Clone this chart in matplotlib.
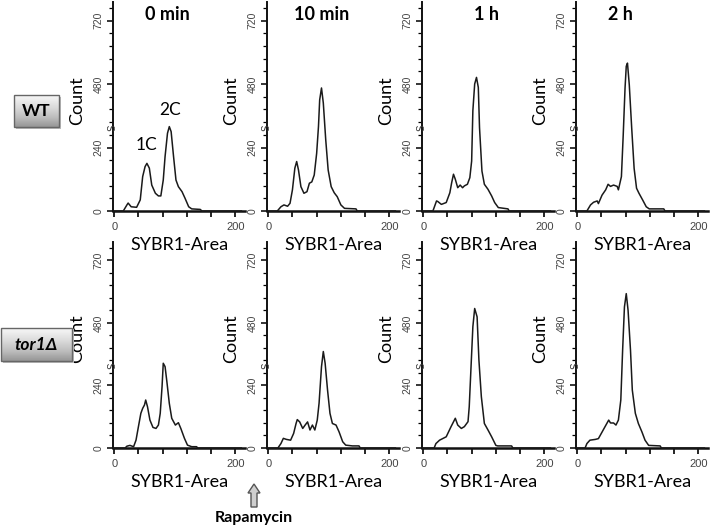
import matplotlib
matplotlib.use("Agg")
import matplotlib.pyplot as plt
import numpy as np
from matplotlib.patches import FancyArrow, Rectangle

# values (SYBR1-Area vs Count)
wt_0min_x = [0, 15, 21, 23, 28, 37, 43, 47, 51, 54, 58, 62, 68, 73, 77, 81, 84, 88, 91, 94, 98, 102, 106, 112, 117, 123, 128, 142, 145, 210]
wt_0min_y = [0, 0, 23, 30, 16, 14, 42, 130, 168, 180, 162, 98, 67, 57, 57, 117, 206, 294, 319, 300, 206, 117, 92, 73, 48, 16, 8, 6, 0, 0]

wt_10min_x = [0, 15, 21, 26, 32, 36, 40, 44, 47, 50, 54, 59, 64, 68, 72, 76, 80, 83, 85, 88, 91, 95, 99, 104, 109, 114, 120, 126, 145, 147, 210]
wt_10min_y = [0, 0, 16, 23, 18, 29, 80, 162, 187, 155, 92, 67, 73, 105, 110, 136, 218, 319, 420, 465, 408, 269, 155, 92, 69, 54, 23, 10, 8, 0, 0]

wt_1h_x = [0, 16, 22, 24, 30, 38, 44, 47, 50, 53, 57, 61, 65, 68, 73, 77, 80, 82, 85, 88, 91, 93, 97, 101, 107, 113, 118, 124, 140, 142, 210]
wt_1h_y = [0, 0, 38, 36, 25, 32, 69, 107, 139, 120, 88, 98, 88, 95, 101, 126, 189, 379, 480, 505, 467, 315, 151, 101, 82, 57, 32, 13, 8, 0, 0]

wt_2h_x = [0, 16, 22, 27, 33, 35, 41, 47, 51, 55, 60, 66, 68, 73, 76, 79, 81, 83, 86, 90, 94, 98, 102, 108, 114, 119, 143, 145, 210]
wt_2h_y = [0, 0, 23, 33, 38, 28, 60, 80, 101, 93, 98, 93, 80, 130, 288, 465, 547, 559, 477, 313, 161, 86, 67, 42, 16, 8, 8, 0, 0]

tor1_0min_x = [0, 18, 21, 26, 32, 36, 40, 44, 47, 50, 52, 55, 59, 64, 69, 73, 76, 79, 81, 84, 87, 91, 95, 101, 106, 110, 116, 121, 128, 136, 138, 210]
tor1_0min_y = [0, 0, 7, 10, 5, 30, 82, 133, 152, 165, 184, 158, 107, 79, 75, 88, 133, 235, 325, 312, 254, 171, 114, 88, 97, 75, 37, 11, 5, 5, 0, 0]

tor1_10min_x = [0, 16, 21, 25, 30, 37, 42, 46, 48, 52, 57, 61, 65, 69, 73, 77, 81, 84, 88, 91, 94, 98, 102, 106, 112, 117, 123, 128, 139, 150, 152, 210]
tor1_10min_y = [0, 0, 17, 37, 33, 30, 56, 94, 109, 100, 75, 88, 100, 69, 88, 69, 107, 172, 312, 370, 325, 222, 133, 94, 88, 62, 24, 11, 8, 8, 0, 0]

tor1_1h_x = [0, 18, 21, 27, 38, 46, 53, 57, 63, 68, 74, 76, 79, 82, 85, 89, 92, 96, 101, 107, 113, 120, 123, 146, 148, 210]
tor1_1h_y = [0, 0, 17, 30, 43, 82, 114, 88, 75, 82, 101, 158, 312, 465, 535, 503, 337, 197, 94, 69, 43, 10, 8, 8, 0, 0]

tor1_2h_x = [0, 13, 16, 21, 30, 35, 41, 46, 52, 55, 60, 64, 68, 72, 75, 78, 81, 84, 88, 91, 96, 101, 107, 112, 118, 137, 139, 210]
tor1_2h_y = [0, 0, 17, 30, 33, 36, 61, 82, 107, 96, 96, 88, 107, 184, 375, 541, 592, 528, 375, 222, 133, 94, 61, 30, 10, 8, 0, 0]

timepoints = ["0 min", "10 min", "1 h", "2 h"]
strains = ["WT", "tor1Δ"]
x_ticks = [0, 40, 80, 120, 160, 200]
x_tick_labels = ["0", "", "", "", "", "200"]
y_ticks = [0, 240, 480, 720]

rows = [
    [(wt_0min_x, wt_0min_y), (wt_10min_x, wt_10min_y), (wt_1h_x, wt_1h_y), (wt_2h_x, wt_2h_y)],
    [(tor1_0min_x, tor1_0min_y), (tor1_10min_x, tor1_10min_y), (tor1_1h_x, tor1_1h_y), (tor1_2h_x, tor1_2h_y)],
]

W, H = 712, 526
fig = plt.figure(figsize=(W / 100, H / 100), dpi=100)
fig.patch.set_facecolor("white")

LABEL_FONT = "Lato"
TICK_FONT = "Liberation Sans"

col_left = [113, 267, 422, 576]     # pixel x of the y-axis spine
row_base = [211, 448]               # pixel y of the zero line
row_height = [209, 206]
ax_w = 132
title_x = [167, 322, 487, 620]

for r, row in enumerate(rows):
    for c, (xs, ys) in enumerate(row):
        left = col_left[c] / W
        bottom = (H - row_base[r]) / H
        ax = fig.add_axes([left, bottom, ax_w / W, row_height[r] / H])
        ax.plot(xs, ys, color="#1a1a1a", lw=1.1, clip_on=False, zorder=3)
        ax.set_xlim(-2, 216)
        ax.set_ylim(0, 790)
        for s in ["top", "right"]:
            ax.spines[s].set_visible(False)
        ax.spines["left"].set_linewidth(1.4)
        ax.spines["bottom"].set_linewidth(1.8)
        ax.spines["left"].set_color("#111111")
        ax.spines["bottom"].set_color("#111111")

        ax.set_xticks(x_ticks)
        ax.set_xticklabels(x_tick_labels, fontname=TICK_FONT, fontsize=8, color="#444444")
        ax.tick_params(axis="x", length=4, width=1.2, pad=4, direction="out")
        ax.set_yticks(y_ticks)
        ax.set_yticklabels([str(v) for v in y_ticks], fontname=TICK_FONT, fontsize=7.5,
                           color="#444444", rotation=90, va="center")
        ax.set_yticks(np.arange(0, 790, 48), minor=True)
        ax.tick_params(axis="y", which="major", length=4, width=1.1, pad=3)
        ax.tick_params(axis="y", which="minor", length=3, width=0.9)

        ax.set_xlabel("SYBR1-Area", fontname=LABEL_FONT, fontsize=13, labelpad=1)
        ax.set_ylabel("Count", fontname=LABEL_FONT, fontsize=13)
        ax.yaxis.set_label_coords(-28 / ax_w, 0.53)
        ax.xaxis.set_label_coords(0.5, -26 / row_height[r])
        ax.text(0.0, 0.40, "S", transform=ax.transAxes, rotation=90, fontsize=7,
                ha="center", va="center", fontname=TICK_FONT, color="#333333")
        ax.patch.set_alpha(0)

        if r == 0:
            fig.text(title_x[c] / W, 1 - 14 / H, timepoints[c], ha="center", va="center",
                     fontname=LABEL_FONT, fontsize=13, fontweight="bold")
        if r == 0 and c == 0:
            ax.text(54, 250, "1C", ha="center", va="center", fontname=LABEL_FONT, fontsize=12.5)
            ax.text(93, 383, "2C", ha="center", va="center", fontname=LABEL_FONT, fontsize=12.5)

# overlay in pixel coordinates for the strain boxes and the rapamycin arrow
ov = fig.add_axes([0, 0, 1, 1])
ov.patch.set_alpha(0)
ov.axis("off")
grad = np.linspace(0, 1, 64).reshape(-1, 1)
boxes = [(14, 95, 59, 127), (1, 328, 72, 361)]
for (x0, y0, x1, y1), name in zip(boxes, strains):
    ov.add_patch(Rectangle((x0 + 2, y0 + 2), x1 - x0, y1 - y0, facecolor="#bbbbbb",
                           edgecolor="none", zorder=1))
    ov.imshow(grad, extent=(x0, x1, y1, y0), cmap="Greys", vmin=-0.2, vmax=2.2,
              aspect="auto", zorder=2)
    ov.add_patch(Rectangle((x0, y0), x1 - x0, y1 - y0, facecolor="none",
                           edgecolor="#666666", lw=1.0, zorder=3))
    style = "italic" if name != "WT" else "normal"
    ov.text((x0 + x1) / 2, (y0 + y1) / 2, name, ha="center", va="center", zorder=4,
            fontname=LABEL_FONT, fontsize=12.5, fontweight="bold", fontstyle=style)

ov.add_patch(FancyArrow(254, 507, 0, -23, width=6, head_width=12, head_length=9,
                        length_includes_head=True, facecolor="#cfcfcf",
                        edgecolor="#555555", lw=1.0))
ov.text(254, 518, "Rapamycin", ha="center", va="center", fontname=LABEL_FONT,
        fontsize=11.5, fontweight="bold")
ov.set_xlim(0, W)
ov.set_ylim(H, 0)

fig.savefig("out.png", dpi=100)
plt.close(fig)
